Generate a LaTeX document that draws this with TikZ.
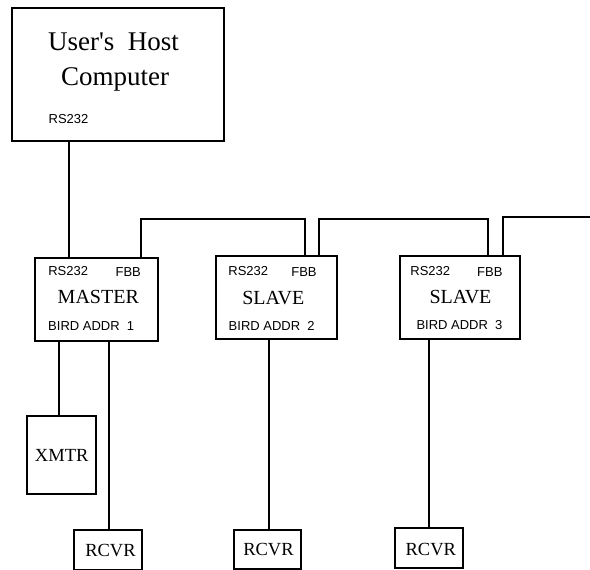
\documentclass[tikz,border=0pt]{standalone}
\usepackage{fontspec}
\setmainfont{Liberation Serif}
\newfontfamily\arialfont{Liberation Sans}
\tikzset{
  box/.style={draw, line width=1.6pt, inner sep=0pt, anchor=north west},
  wire/.style={line width=1.6pt},
  big/.style={inner sep=0pt, anchor=base, font=\fontsize{20}{24}\selectfont},
  huge/.style={inner sep=0pt, anchor=base, font=\fontsize{27}{32}\selectfont},
  sml/.style={inner sep=0pt, anchor=base, font=\arialfont\fontsize{13}{15}\selectfont},
  dev/.style={inner sep=0pt, anchor=base, font=\fontsize{18.5}{22}\selectfont}
}
\begin{document}
\begin{tikzpicture}[x=1pt,y=-1pt]
\useasboundingbox (0,0) rectangle (590,570);
% boxes
\node[box, minimum width=212pt, minimum height=133pt] (host) at (11,7) {};
\node[box, minimum width=123pt, minimum height=83pt] (master) at (34,257) {};
\node[box, minimum width=121pt, minimum height=83pt] (slave2) at (215,255) {};
\node[box, minimum width=120pt, minimum height=83pt] (slave3) at (399,255) {};
\node[box, minimum width=69pt, minimum height=78pt] (xmtr) at (26,415) {};
\node[box, minimum width=68pt, minimum height=40pt] (rcvr1) at (73,529) {};
\node[box, minimum width=67pt, minimum height=39pt] (rcvr2) at (233,529) {};
\node[box, minimum width=68pt, minimum height=40pt] (rcvr3) at (394,527) {};
% texts
\node[huge] (t1) at (113.5,50) {User\textquotesingle s\ \ Host};
\node[huge] (t2) at (115,85) {Computer};
\node[sml] (t3) at (68.5,123) {RS232};
\node[sml] (m1) at (68.2,275) {RS232};
\node[sml] (m2) at (128.2,276) {FBB};
\node[big] (m3) at (98.3,303.3) {MASTER};
\node[sml] (m4) at (91.2,330.7) {BIRD\ ADDR\ \ 1};
\node[sml] (s21) at (248.3,275) {RS232};
\node[sml] (s22) at (304,276) {FBB};
\node[big] (s23) at (273.3,304) {SLAVE};
\node[sml] (s24) at (271.7,330.7) {BIRD\ ADDR\ \ 2};
\node[sml] (s31) at (430.3,275) {RS232};
\node[sml] (s32) at (489.8,276) {FBB};
\node[big] (s33) at (460.5,303) {SLAVE};
\node[sml] (s34) at (459.5,329) {BIRD\ ADDR\ \ 3};
\node[dev] (x1) at (61.7,461) {XMTR};
\node[dev] (r1) at (110.5,556.7) {RCVR};
\node[dev] (r2) at (268.5,555) {RCVR};
\node[dev] (r3) at (430.8,555) {RCVR};
\coordinate (busend) at (590,217);
% connectors
\draw[wire] (host.south -| 69,0) -- (master.north -| 69,0);
\draw[wire] (master.north -| 141,0) |- (305,219) -- (slave2.north -| 305,0);
\draw[wire] (slave2.north -| 319,0) |- (488,219) -- (slave3.north -| 488,0);
\draw[wire] (slave3.north -| 503,0) |- (busend);
\draw[wire] (master.south -| 59,0) -- (xmtr.north -| 59,0);
\draw[wire] (master.south -| 109,0) -- (rcvr1.north -| 109,0);
\draw[wire] (slave2.south -| 269,0) -- (rcvr2.north -| 269,0);
\draw[wire] (slave3.south -| 429,0) -- (rcvr3.north -| 429,0);
\end{tikzpicture}
\end{document}
